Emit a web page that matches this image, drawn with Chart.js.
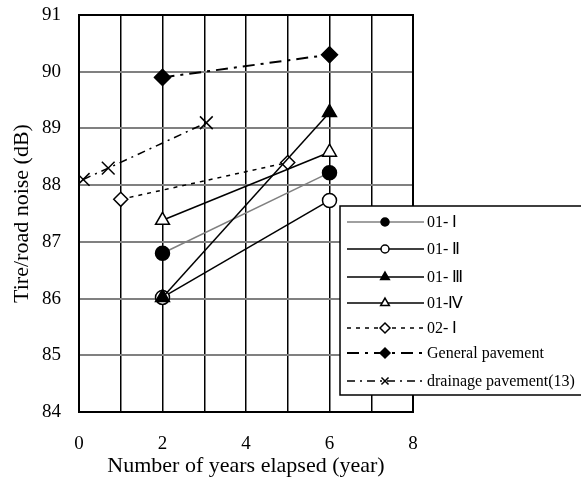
<!DOCTYPE html>
<html>
<head>
<meta charset="utf-8">
<script src="https://cdn.jsdelivr.net/npm/chart.js@4/dist/chart.umd.min.js"></script>
<style>
  html, body { margin: 0; padding: 0; background: #fff; }
  #wrap { width: 581px; height: 479px; position: relative; }
</style>
</head>
<body>
<div id="wrap"><canvas id="noiseChart"></canvas></div>
<script>
// Series labels
const seriesNames = ["01- \u2160", "01- \u2161", "01- \u2162", "01-\u2163", "02- \u2160", "General pavement", "drainage pavement(13)"];

// years elapsed / noise values (dB)
const yearsA = [2, 6];
const noise01I = [86.8, 88.22];
const noise01II = [86.02, 87.73];
const noise01III = [86.02, 89.28];
const noise01IV = [87.38, 88.58];

const years02I = [1, 5];
const noise02I = [87.75, 88.4];

const yearsGeneral = [2, 6];
const noiseGeneral = [89.9, 90.3];

const yearsDrainage = [0.1, 0.7, 3.05];
const noiseDrainage = [88.1, 88.3, 89.1];

const xTicks = [0, 2, 4, 6, 8];

const toPoints = (xs, ys) => xs.map((x, i) => ({ x: x, y: ys[i] }));

const serif = "'Liberation Serif', 'Times New Roman', serif";

function makeSet(label, xs, ys, opts) {
  return Object.assign({
    label: label,
    data: toPoints(xs, ys),
    borderColor: "#000",
    borderWidth: 1.5,
    pointBorderColor: "#000",
    pointBackgroundColor: "#000",
    pointBorderWidth: 1.5,
    pointRadius: 7,
    fill: false,
    tension: 0,
  }, opts);
}

const datasets = [
  makeSet(seriesNames[0], yearsA, noise01I, { borderColor: "#808080", pointStyle: "circle" }),
  makeSet(seriesNames[1], yearsA, noise01II, { pointStyle: "circle", pointBackgroundColor: "#fff" }),
  // filled triangle sits on top of the open circle at year 2
  makeSet(seriesNames[2], yearsA, noise01III, { pointStyle: "triangle", pointRadius: 8, order: -1 }),
  makeSet(seriesNames[3], yearsA, noise01IV, { pointStyle: "triangle", pointRadius: 8, pointBackgroundColor: "#fff" }),
  makeSet(seriesNames[4], years02I, noise02I, { pointStyle: "rectRot", pointBackgroundColor: "#fff", borderDash: [4, 5] }),
  makeSet(seriesNames[5], yearsGeneral, noiseGeneral, { pointStyle: "rectRot", pointRadius: 8, borderWidth: 2, borderDash: [12, 6, 3, 6] }),
  makeSet(seriesNames[6], yearsDrainage, noiseDrainage, { pointStyle: "crossRot", pointRadius: 9, borderDash: [8, 5, 2, 5] }),
];

// legend drawn inside the chart, overlapping the right edge
const boxLegend = {
  id: "boxLegend",
  afterDraw(chart) {
    const ctx = chart.ctx;
    const left = 340, top = 206, right = 600, bottom = 395;
    ctx.save();
    ctx.fillStyle = "#fff";
    ctx.fillRect(left, top, right - left, bottom - top);
    ctx.strokeStyle = "#000";
    ctx.lineWidth = 1.5;
    ctx.strokeRect(left, top, right - left, bottom - top);
    const rowY = [222, 249, 277, 303, 328, 353, 381];
    chart.data.datasets.forEach((ds, i) => {
      const y = rowY[i];
      ctx.save();
      ctx.strokeStyle = ds.borderColor;
      ctx.lineWidth = ds.borderWidth;
      ctx.setLineDash(ds.borderDash || []);
      ctx.beginPath();
      ctx.moveTo(347, y);
      ctx.lineTo(424, y);
      ctx.stroke();
      ctx.restore();
      ctx.save();
      ctx.strokeStyle = ds.pointBorderColor;
      ctx.fillStyle = ds.pointBackgroundColor;
      ctx.lineWidth = 1.5;
      ctx.setLineDash([]);
      Chart.helpers.drawPoint(ctx, {
        pointStyle: ds.pointStyle,
        radius: ds.pointStyle === "circle" ? 4 : 5,
        borderWidth: 1.5,
        rotation: 0,
      }, 385, y);
      ctx.restore();
      ctx.fillStyle = "#000";
      ctx.font = "16px " + serif;
      ctx.textBaseline = "middle";
      ctx.textAlign = "left";
      ctx.fillText(ds.label, 427, y + 1);
    });
    ctx.restore();
  },
};

// frame round the plot area
const frame = {
  id: "frame",
  beforeDatasetsDraw(chart) {
    const a = chart.chartArea;
    const ctx = chart.ctx;
    ctx.save();
    ctx.strokeStyle = "#000";
    ctx.lineWidth = 2;
    ctx.strokeRect(a.left, a.top, a.right - a.left, a.bottom - a.top);
    ctx.restore();
  },
};

new Chart(document.getElementById("noiseChart"), {
  type: "line",
  data: { datasets: datasets },
  options: {
    responsive: true,
    maintainAspectRatio: false,
    animation: false,
    layout: { padding: { top: 15, right: 168, left: 0, bottom: 0 } },
    plugins: {
      legend: { display: false },
      tooltip: { enabled: false },
    },
    scales: {
      x: {
        type: "linear",
        min: 0,
        max: 8,
        afterFit: (s) => { s.height = 67; s.paddingLeft = 0; s.paddingRight = 0; },
        grid: { color: "#000", lineWidth: 1.5, drawTicks: false },
        border: { color: "#000", width: 2 },
        ticks: {
          stepSize: 1,
          padding: 21,
          color: "#000",
          font: { family: serif, size: 19 },
          callback: (v) => (xTicks.includes(v) ? String(v) : ""),
        },
        title: {
          display: true,
          text: "Number of years elapsed (year)",
          color: "#000",
          font: { family: serif, size: 22 },
          padding: { top: 0, bottom: 0 },
        },
      },
      y: {
        min: 84,
        max: 91,
        afterFit: (s) => { s.width = 79; s.paddingTop = 0; s.paddingBottom = 0; },
        grid: { color: "#808080", lineWidth: 2, drawTicks: false },
        border: { color: "#000", width: 2 },
        ticks: {
          stepSize: 1,
          padding: 18,
          color: "#000",
          font: { family: serif, size: 19 },
        },
        title: {
          display: true,
          text: "Tire/road noise (dB)",
          color: "#000",
          font: { family: serif, size: 22 },
          padding: { top: 9, bottom: 0 },
        },
      },
    },
  },
  plugins: [frame, boxLegend],
});
</script>
</body>
</html>
